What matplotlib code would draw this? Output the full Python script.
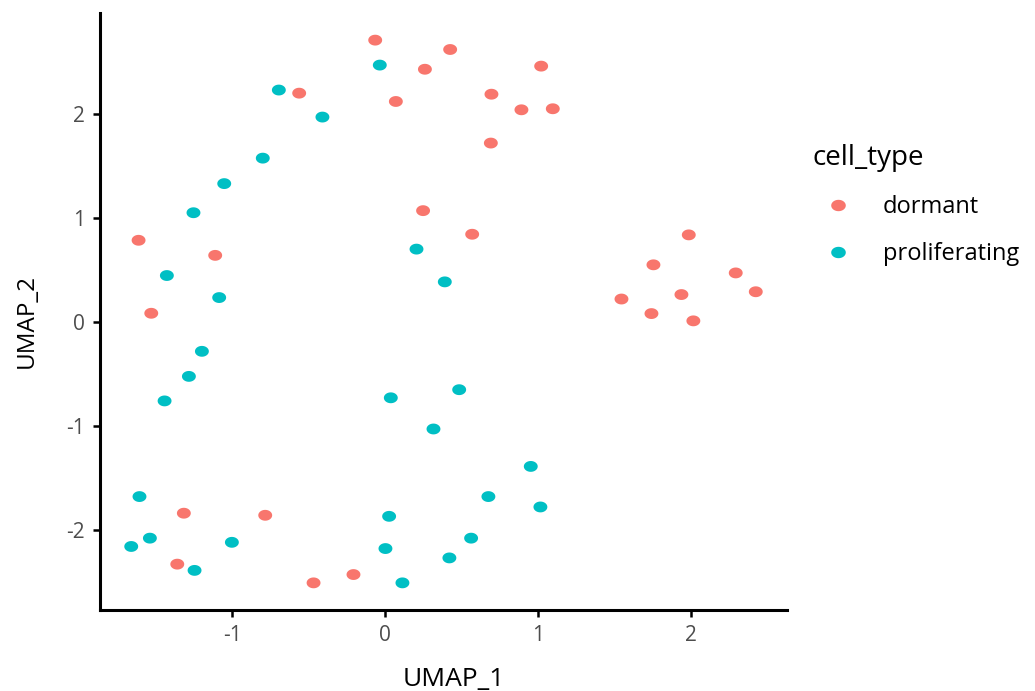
import numpy as np
import matplotlib
matplotlib.use("Agg")
import matplotlib.pyplot as plt
from matplotlib.path import Path
from matplotlib.lines import Line2D

plt.rcParams["font.family"] = ["Open Sans", "DejaVu Sans"]
plt.rcParams["axes.unicode_minus"] = False

# UMAP coordinates
dormant_x = [-0.065, 0.425, 0.26, 1.02, 0.07, -0.562, 0.248, -1.612, -1.111, -1.529,
             0.695, 0.891, 1.096, 0.691, 0.569, 1.985, 1.754, 2.292, 2.423, 1.937,
             1.545, 1.741, 2.015, -1.316, -0.784, -1.359, -0.468, -0.207]
dormant_y = [2.71, 2.62, 2.43, 2.46, 2.12, 2.20, 1.07, 0.785, 0.64, 0.083,
             2.19, 2.04, 2.05, 1.72, 0.843, 0.837, 0.549, 0.471, 0.29, 0.263,
             0.22, 0.08, 0.01, -1.84, -1.86, -2.33, -2.51, -2.43]
prolif_x = [-0.035, -0.695, -0.41, -0.80, -1.052, -1.253, 0.205, 0.39, -1.427, -1.085,
            -1.198, -1.283, -1.442, 0.037, 0.484, 0.316, 0.952, 0.675, 1.015, -1.606,
            0.026, -1.538, -1.66, -1.002, 0.562, 0.002, 0.42, -1.246, 0.113]
prolif_y = [2.47, 2.23, 1.97, 1.575, 1.33, 1.05, 0.70, 0.385, 0.446, 0.234,
            -0.283, -0.524, -0.76, -0.73, -0.652, -1.03, -1.39, -1.68, -1.78, -1.68,
            -1.87, -2.08, -2.16, -2.12, -2.08, -2.18, -2.27, -2.39, -2.51]
groups = ["dormant", "proliferating"]
colors = ["#F8766D", "#00BFC4"]

# slightly squashed dot, as in the (stretched) source image
t = np.linspace(0, 2 * np.pi, 60)
dot = Path(np.column_stack([np.cos(t), 0.78 * np.sin(t)]), closed=True)

fig = plt.figure(figsize=(10.35, 6.91), dpi=100)
ax = fig.add_axes([100 / 1035, 81 / 691, 687 / 1035, 597 / 691])

for (xs, ys), c in zip([(dormant_x, dormant_y), (prolif_x, prolif_y)], colors):
    ax.scatter(xs, ys, s=100, marker=dot, color=c, edgecolors="none")

allx = dormant_x + prolif_x
ally = dormant_y + prolif_y
dx = (max(allx) - min(allx)) * 0.05
dy = (max(ally) - min(ally)) * 0.05
ax.set_xlim(min(allx) - dx, max(allx) + dx)
ax.set_ylim(min(ally) - dy, max(ally) + dy)

ax.set_xticks([-1, 0, 1, 2])
ax.set_yticks([-2, -1, 0, 1, 2])
ax.tick_params(labelsize=15, labelcolor="#4d4d4d", length=5, width=1.8, pad=6)
for s in ["top", "right"]:
    ax.spines[s].set_visible(False)
for s in ["left", "bottom"]:
    ax.spines[s].set_linewidth(2.2)

ax.set_xlabel("UMAP_1", fontsize=19, va="center")
ax.set_ylabel("UMAP_2", fontsize=17.5, va="center")
ax.xaxis.set_label_coords(0.515, -0.1156)
ax.yaxis.set_label_coords(-0.106, 0.484)

handles = [Line2D([], [], ls="none", marker=dot, ms=10.5, color=c, mec="none") for c in colors]
leg = fig.legend(handles, groups, title="cell_type", frameon=False, fontsize=17,
                 title_fontsize=20, loc="upper left", bbox_to_anchor=(812 / 1035, 1 - 144 / 691),
                 handlelength=2.2, handletextpad=0.8, labelspacing=0.98, borderaxespad=0,
                 borderpad=0)
leg._legend_box.align = "left"

fig.savefig("out.png", dpi=100)
